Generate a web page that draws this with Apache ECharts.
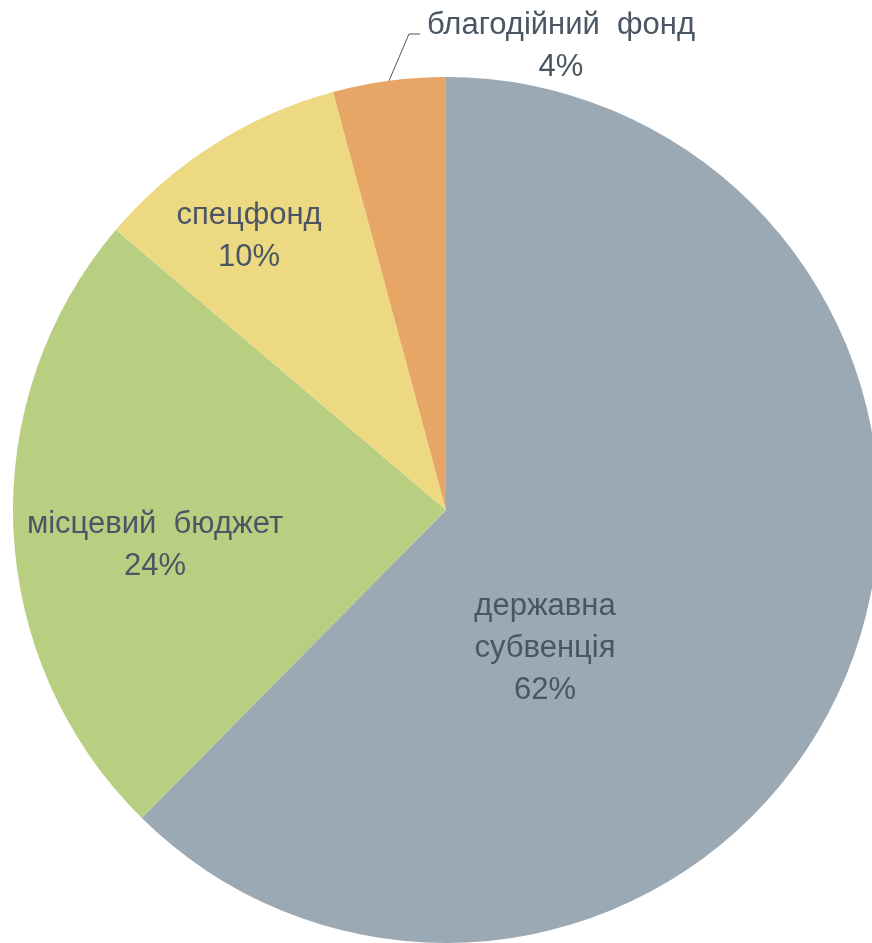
<!DOCTYPE html>
<html>
<head>
<meta charset="utf-8">
<script src="https://cdn.jsdelivr.net/npm/echarts@6/dist/echarts.min.js"></script>
<style>
  html, body { margin: 0; padding: 0; background: #fff; }
  #chart { width: 872px; height: 943px; }
</style>
</head>
<body>
<div id="chart"></div>
<script>
// дані
const categories = ['державна\nсубвенція', 'місцевий  бюджет', 'спецфонд', 'благодійний  фонд']
const values = [62.4, 23.8, 9.6, 4.2]
const colors = ['#9BA9B5', '#B8CF82', '#EED983', '#E8A666']

// розташування підписів (як в Excel)
const labelAt = [[545, 648], [155, 545], [249, 236], [561, 46]]
const textColor = '#4A5664'

const chart = echarts.init(document.getElementById('chart'))

const data = categories.map((name, i) => ({
  name: name,
  value: values[i],
  itemStyle: { color: colors[i] },
  label: { position: i === 3 ? 'outside' : 'inside' },
  labelLine: { show: i === 3 },
}))

chart.setOption({
  animation: false,
  series: [
    {
      type: 'pie',
      center: [446, 510],
      radius: 433,
      startAngle: 90,
      clockwise: true,
      avoidLabelOverlap: false,
      itemStyle: { borderWidth: 0 },
      label: {
        show: true,
        formatter: (p) => p.name + '\n' + Math.round(p.percent) + '%',
        color: textColor,
        fontFamily: '"Liberation Sans", Arial, sans-serif',
        fontSize: 31,
        lineHeight: 42,
        align: 'center',
      },
      labelLine: {
        length: 20,
        length2: 10,
        lineStyle: { color: textColor, width: 1 },
      },
      labelLayout: function (p) {
        const pos = labelAt[p.dataIndex]
        const out = { x: pos[0], y: pos[1], align: 'center', verticalAlign: 'middle' }
        if (p.dataIndex === 3 && p.labelLinePoints) {
          const left = pos[0] - p.labelRect.width / 2
          const top = pos[1] - p.labelRect.height / 2
          out.labelLinePoints = [
            p.labelLinePoints[0],
            [left - 18, top + 30],
            [left - 7, top + 30],
          ]
        }
        return out
      },
      emphasis: { disabled: true },
      data: data,
    },
  ],
})
</script>
</body>
</html>
